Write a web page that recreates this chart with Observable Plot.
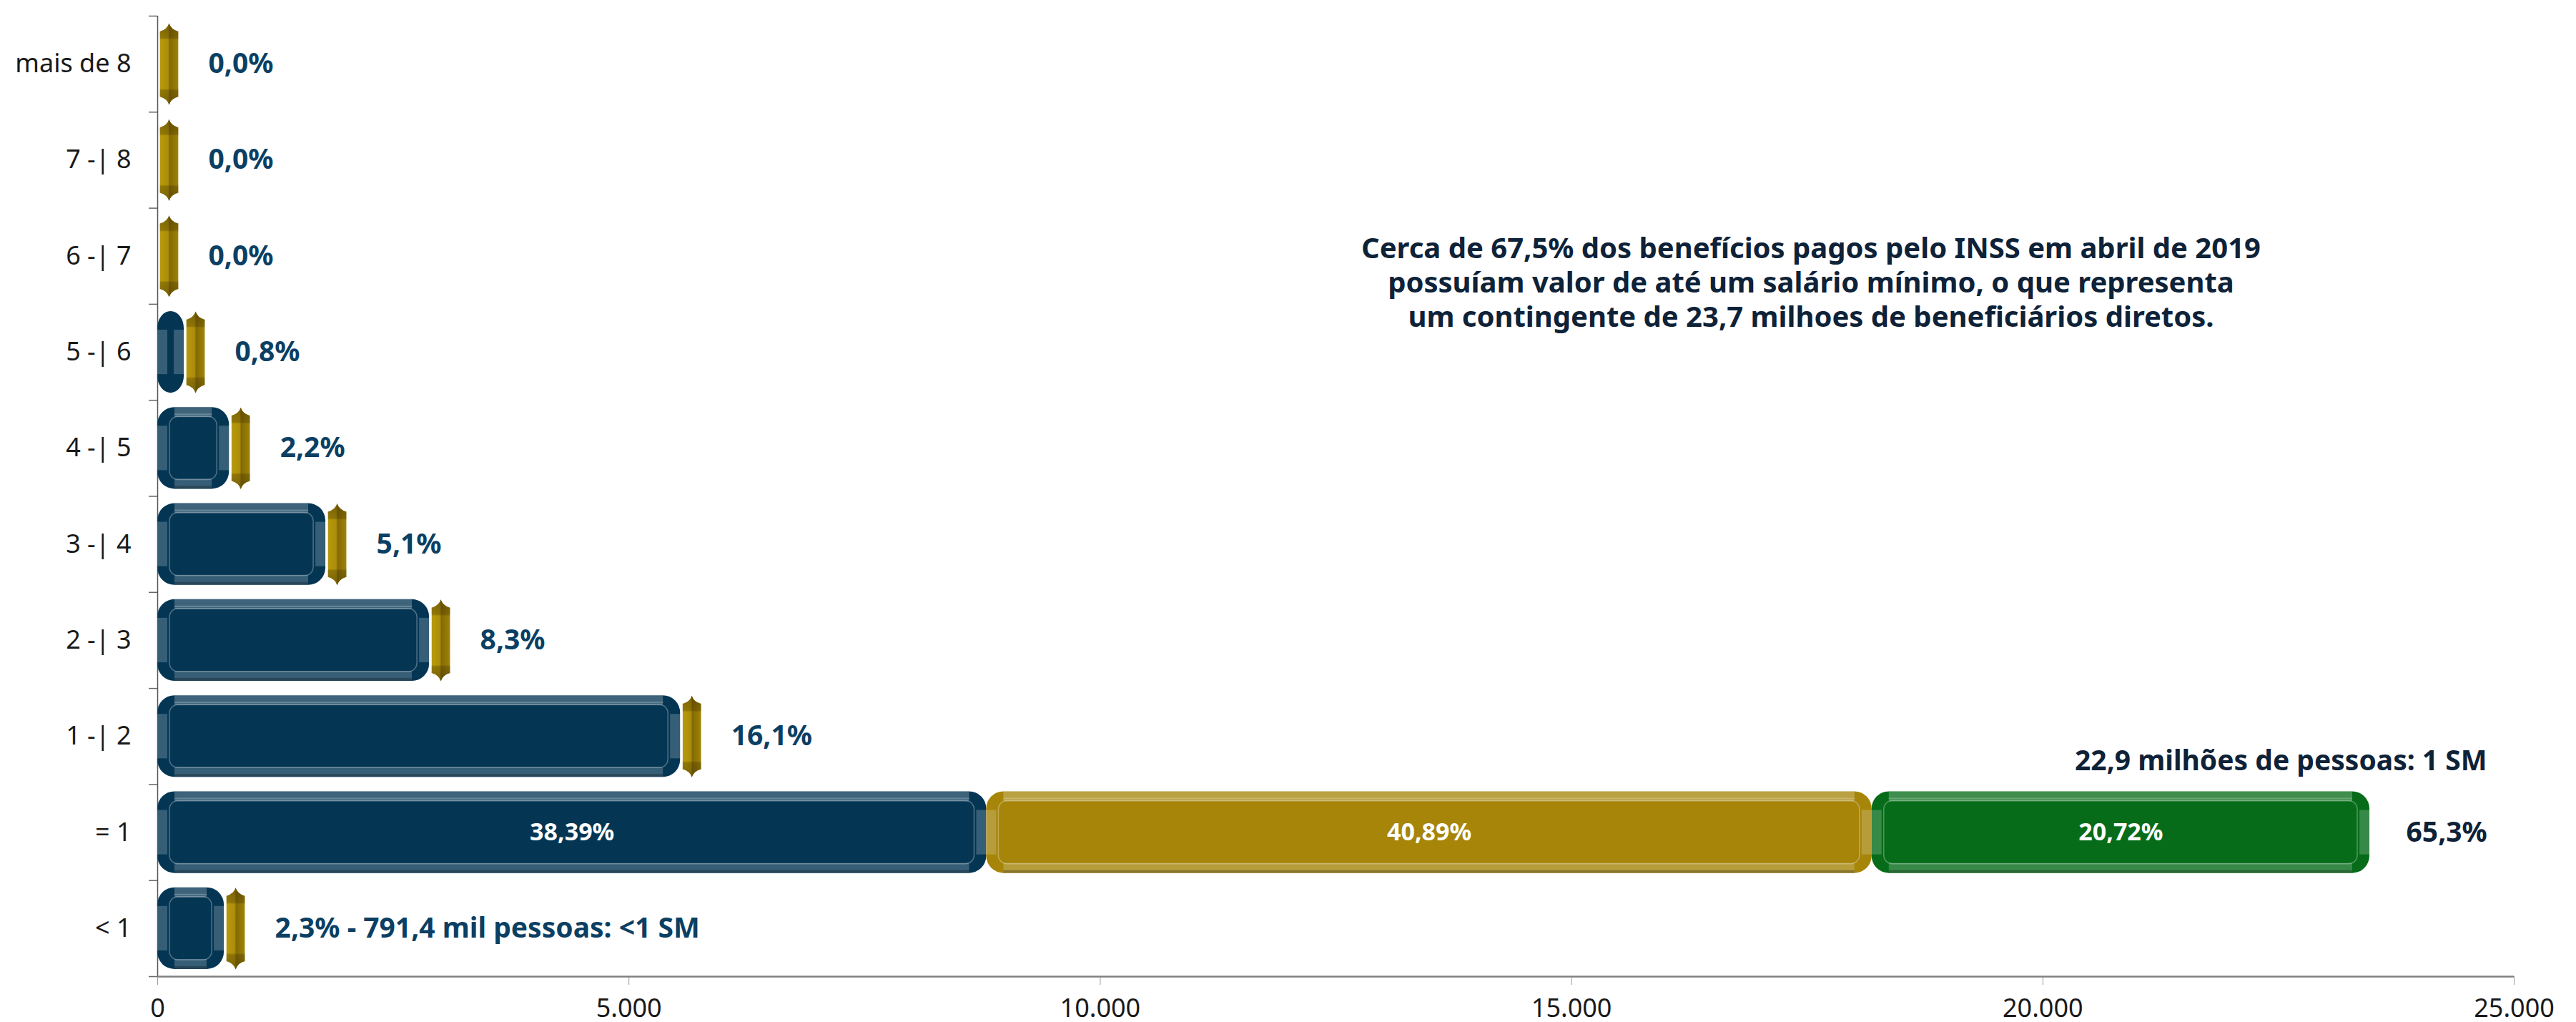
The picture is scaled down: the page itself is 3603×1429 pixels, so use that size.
<!DOCTYPE html>
<html>
<head>
<meta charset="utf-8">
<script src="https://cdn.jsdelivr.net/npm/d3@7"></script>
<script src="https://cdn.jsdelivr.net/npm/@observablehq/plot@0.6"></script>
<style>
  html, body { margin: 0; padding: 0; background: #ffffff; }
  #chart svg { display: block; }
</style>
</head>
<body>
<div id="chart"></div>
<script>
// ---------- DATA (thousands of beneficiaries) ----------
const categorias = ["mais de 8", "7 -| 8", "6 -| 7", "5 -| 6", "4 -| 5", "3 -| 4", "2 -| 3", "1 -| 2", "= 1", "< 1"];
const beneficiosMil = [0, 0, 0, 281, 760, 1783, 2883, 5546, null, 706];
const rotulos = ["0,0%", "0,0%", "0,0%", "0,8%", "2,2%", "5,1%", "8,3%", "16,1%", "65,3%", "2,3% - 791,4 mil pessoas: <1 SM"];
const seriesUmSM = ["parcela 1", "parcela 2", "parcela 3"];
const valoresUmSM = [8794, 9393, 5281];
const rotulosUmSM = ["38,39%", "40,89%", "20,72%"];
const ticksX = [0, 5000, 10000, 15000, 20000, 25000];
const notaTopo = "Cerca de 67,5% dos benefícios pagos pelo INSS em abril de 2019\npossuíam valor de até um salário mínimo, o que representa\num contingente de 23,7 milhoes de beneficiários diretos.";
const notaUmSM = "22,9 milhões de pessoas: 1 SM";

// ---------- derived tables ----------
const barras = [];
categorias.forEach((c, i) => {
  if (c === "= 1") {
    let acc = 0;
    valoresUmSM.forEach((v, j) => {
      barras.push({categoria: c, serie: seriesUmSM[j], x1: acc, x2: acc + v, rotulo: rotulosUmSM[j]});
      acc += v;
    });
  } else if (beneficiosMil[i] > 0) {
    barras.push({categoria: c, serie: seriesUmSM[0], x1: 0, x2: beneficiosMil[i], rotulo: null});
  }
});
const totalUmSM = d3.sum(valoresUmSM);
const lascas = categorias
  .map((c, i) => ({categoria: c, x: beneficiosMil[i], rotulo: rotulos[i]}))
  .filter(d => d.categoria !== "= 1");
const rotuloUmSM = rotulos[categorias.indexOf("= 1")];

// ---------- layout ----------
const W = 3603, H = 1429;
const mT = 22, mB = 64, mL = 220, mR = 87;
const step = (H - mT - mB) / categorias.length;
const half = step / 2;
const bh = step * 0.85;

const fmt = d3.formatLocale({decimal: ",", thousands: ".", grouping: [3], currency: ["R$", ""]}).format(",d");
const fonteBold = "'Noto Sans', 'DejaVu Sans', sans-serif";
const fonteAxis = "'Noto Sans', 'DejaVu Sans', sans-serif";
const largura = d => d.x2 - d.x1;

// gold sliver symbol (pointed capsule)
const lasca = {
  draw(ctx, size) {
    const r = Math.sqrt(size / Math.PI);
    const h = r, w = r * 0.225, t = r * 0.2;
    ctx.moveTo(0, -h);
    ctx.quadraticCurveTo(w * 0.2, -h + t * 0.75, w, -h + t);
    ctx.lineTo(w, h - t);
    ctx.quadraticCurveTo(w * 0.2, h - t * 0.75, 0, h);
    ctx.quadraticCurveTo(-w * 0.2, h - t * 0.75, -w, h - t);
    ctx.lineTo(-w, -h + t);
    ctx.quadraticCurveTo(-w * 0.2, -h + t * 0.75, 0, -h);
    ctx.closePath();
  }
};

const chart = Plot.plot({
  width: W,
  height: H,
  marginTop: mT,
  marginBottom: mB,
  marginLeft: mL,
  marginRight: mR,
  style: {fontFamily: fonteAxis, background: "white", overflow: "visible"},
  x: {domain: [0, 25000]},
  y: {domain: categorias, paddingInner: 0.15, paddingOuter: 0.075, round: false},
  color: {domain: seriesUmSM, range: ["#043654", "#a68509", "#066c19"]},
  marks: [
    // axes
    Plot.axisY({tickSize: 0, tickPadding: 37, fontSize: 36, fill: "#1a1a1a", fontFamily: fonteAxis, label: null}),
    Plot.axisY({tickSize: 12, tickFormat: () => "", dy: half, stroke: "#666", strokeWidth: 1.5, label: null}),
    Plot.axisY(["mais de 8"], {tickSize: 12, tickFormat: () => "", dy: -half, stroke: "#666", strokeWidth: 1.5, label: null}),
    Plot.axisX(ticksX, {tickSize: 12, tickPadding: 19, tickFormat: fmt, fontSize: 36, stroke: "#999", fill: "#1a1a1a", fontFamily: fonteAxis, label: null}),
    Plot.ruleX([0], {stroke: "#555", strokeWidth: 1.5}),
    Plot.ruleY(["< 1"], {y: d => d, dy: half, x1: 0, x2: 25000, stroke: "#808080", strokeWidth: 2.5}),

    // bars (base)
    Plot.barX(barras, {x1: "x1", x2: "x2", y: "categoria", fill: "serie", rx: 24}),
    // bevel: top band
    Plot.barX(barras.filter(d => largura(d) >= 420), {x1: "x1", x2: "x2", y: "categoria", fill: "white", fillOpacity: 0.23,
      insetTop: 0, insetBottom: bh - 14, insetLeft: 24, insetRight: 24}),
    Plot.barX(barras.filter(d => largura(d) >= 420), {x1: "x1", x2: "x2", y: "categoria", fill: "white", fillOpacity: 0.22,
      insetTop: 9, insetBottom: bh - 11, insetLeft: 24, insetRight: 24}),
    // bevel: bottom band
    Plot.barX(barras.filter(d => largura(d) >= 420), {x1: "x1", x2: "x2", y: "categoria", fill: "white", fillOpacity: 0.2,
      insetTop: bh - 14, insetBottom: 0, insetLeft: 24, insetRight: 24}),
    Plot.barX(barras.filter(d => largura(d) >= 420), {x1: "x1", x2: "x2", y: "categoria", fill: "black", fillOpacity: 0.25,
      insetTop: bh - 4, insetBottom: 0, insetLeft: 24, insetRight: 24}),
    // bevel: side bands
    Plot.barX(barras, {x1: "x1", x2: "x1", y: "categoria", fill: "white", fillOpacity: 0.2,
      insetTop: 26, insetBottom: 26, insetLeft: 0, insetRight: -14}),
    Plot.barX(barras, {x1: "x2", x2: "x2", y: "categoria", fill: "white", fillOpacity: 0.2,
      insetTop: 26, insetBottom: 26, insetLeft: -14, insetRight: 0}),
    // inner outline
    Plot.barX(barras.filter(d => largura(d) >= 460), {x1: "x1", x2: "x2", y: "categoria", fill: "none", stroke: "white",
      strokeOpacity: 0.3, strokeWidth: 1.5, insetTop: 13, insetBottom: 13, insetLeft: 17, insetRight: 17, rx: 12}),

    // gold slivers
    Plot.dot(lascas, {x: "x", y: "categoria", r: bh / 2, symbol: lasca, fill: "url(#gradOuro)", stroke: "none", dx: 16}),
    Plot.dot(lascas, {x: "x", y: "categoria", r: bh / 2, symbol: lasca, fill: "url(#gradOuroV)", stroke: "none", dx: 16}),

    // labels
    Plot.text(lascas, {x: "x", y: "categoria", text: "rotulo", dx: 71, textAnchor: "start", fill: "#0b3f63",
      fontSize: 39, fontWeight: 700, fontFamily: fonteBold}),
    Plot.text(barras.filter(d => d.rotulo), {x: d => (d.x1 + d.x2) / 2, y: "categoria", text: "rotulo", fill: "white",
      fontSize: 34, fontWeight: 700, fontFamily: fonteBold}),
    Plot.text([rotuloUmSM], {x: () => totalUmSM, y: () => "= 1", text: d => d, dx: 51, textAnchor: "start", fill: "#0e2238",
      fontSize: 39, fontWeight: 700, fontFamily: fonteBold}),
    Plot.text([notaUmSM], {x: () => totalUmSM, y: () => "= 1", text: d => d, dx: 164, dy: -100, textAnchor: "end", fill: "#0e2238",
      fontSize: 39, fontWeight: 700, fontFamily: fonteBold}),
    Plot.text([notaTopo], {x: () => 17540, y: () => "6 -| 7", text: d => d, dy: 35, lineHeight: 1.2, fill: "#0e2238",
      fontSize: 40, fontWeight: 700, fontFamily: fonteBold})
  ]
});

// gradients for the gold slivers
const svg = d3.select(chart);
const defs = svg.insert("defs", ":first-child");
const gh = defs.append("linearGradient").attr("id", "gradOuro").attr("x1", 0).attr("x2", 1).attr("y1", 0).attr("y2", 0);
[["0", "#b89a0e"], ["0.45", "#ac8d09"], ["0.52", "#836904"], ["1", "#a08308"]].forEach(([o, c]) =>
  gh.append("stop").attr("offset", o).attr("stop-color", c));
const gv = defs.append("linearGradient").attr("id", "gradOuroV").attr("x1", 0).attr("x2", 0).attr("y1", 0).attr("y2", 1);
[["0", 0.45], ["0.18", 0.3], ["0.2", 0], ["0.8", 0], ["0.82", 0.3], ["1", 0.45]].forEach(([o, a]) =>
  gv.append("stop").attr("offset", o).attr("stop-color", "#3a2c00").attr("stop-opacity", a));

document.getElementById("chart").appendChild(chart);
</script>
</body>
</html>
